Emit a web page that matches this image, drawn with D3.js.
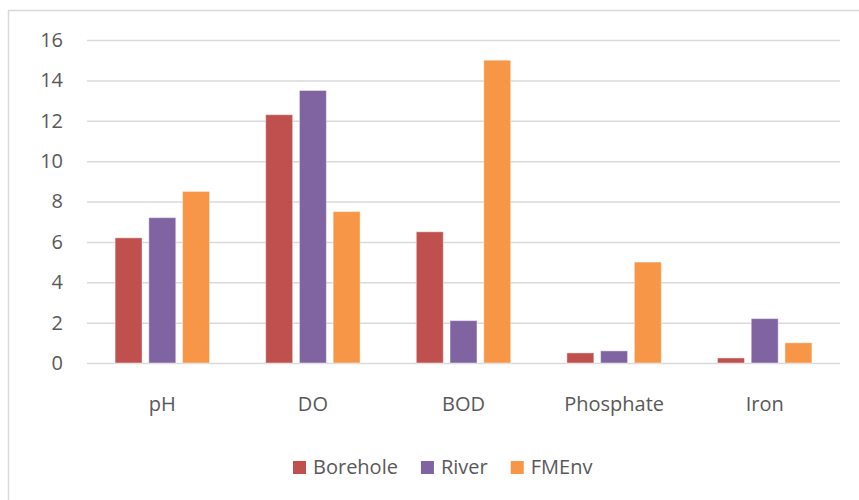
<!DOCTYPE html>
<html>
<head>
<meta charset="utf-8">
<script src="https://cdn.jsdelivr.net/npm/d3@7"></script>
<style>
  html, body { margin: 0; padding: 0; background: #fff; }
  svg { display: block; }
  text { font-family: "Open Sans", "Liberation Sans", sans-serif; fill: #595959; }
</style>
</head>
<body>
<svg id="chart" width="859" height="500"></svg>
<script>
// Water quality parameters by source
const categories = ["pH", "DO", "BOD", "Phosphate", "Iron"];
const seriesNames = ["Borehole", "River", "FMEnv"];
const borehole = [6.2, 12.3, 6.5, 0.5, 0.25];
const river = [7.2, 13.5, 2.1, 0.6, 2.2];
const fmenv = [8.5, 7.5, 15, 5, 1];
const yTicks = [0, 2, 4, 6, 8, 10, 12, 14, 16];
const colors = ["#C0504D", "#8064A2", "#F79646"];

const seriesValues = [borehole, river, fmenv];
const rows = categories.map((c, i) => ({
  category: c,
  values: seriesNames.map((s, j) => ({ series: s, value: seriesValues[j][i], color: colors[j] }))
}));

const svg = d3.select("#chart");
const fontSize = 20;

// Chart frame
svg.append("rect")
  .attr("x", 8.5).attr("y", 10.5)
  .attr("width", 870).attr("height", 500)
  .attr("fill", "none")
  .attr("stroke", "#d9d9d9")
  .attr("stroke-width", 1.5);

const plot = { left: 87, right: 840, top: 40, bottom: 363 };

const x0 = d3.scaleBand().domain(categories).range([plot.left, plot.right]).padding(0);
const groupWidth = x0.bandwidth() * 0.627;
const x1 = d3.scaleBand().domain(seriesNames).range([0, groupWidth]).paddingInner(0.2).paddingOuter(0);
const y = d3.scaleLinear().domain([0, 16]).range([plot.bottom, plot.top]);

// Horizontal gridlines and value labels
const yAxis = d3.axisLeft(y)
  .tickValues(yTicks)
  .tickSize(-(plot.right - plot.left))
  .tickPadding(24)
  .tickFormat(d3.format("d"));

const gy = svg.append("g")
  .attr("transform", `translate(${plot.left},0)`)
  .call(yAxis);
gy.select(".domain").remove();
gy.selectAll(".tick line").attr("stroke", "#d9d9d9").attr("stroke-width", 1.5);
gy.selectAll(".tick text")
  .attr("font-size", fontSize)
  .attr("fill", "#595959")
  .style("font-family", "'Open Sans', sans-serif");

// Bars
const groups = svg.append("g").selectAll("g")
  .data(rows)
  .join("g")
  .attr("transform", d => `translate(${x0(d.category) + (x0.bandwidth() - groupWidth) / 2},0)`);

groups.selectAll("rect")
  .data(d => d.values)
  .join("rect")
  .attr("x", d => x1(d.series))
  .attr("y", d => y(d.value))
  .attr("width", x1.bandwidth())
  .attr("height", d => y(0) - y(d.value))
  .attr("fill", d => d.color)
  .attr("stroke", "rgba(255,255,255,0.45)")
  .attr("stroke-width", 1);

// Category labels
const gx = svg.append("g")
  .attr("transform", `translate(0,${plot.bottom})`)
  .call(d3.axisBottom(x0).tickSize(0).tickPadding(34));
gx.select(".domain").remove();
gx.selectAll(".tick text")
  .attr("font-size", fontSize)
  .attr("fill", "#595959")
  .style("font-family", "'Open Sans', sans-serif");

// Legend
const legend = svg.append("g").attr("transform", "translate(293,0)");
let lx = 0;
seriesNames.forEach((s, i) => {
  const item = legend.append("g").attr("transform", `translate(${lx},0)`);
  item.append("rect")
    .attr("x", 0).attr("y", 461)
    .attr("width", 13).attr("height", 13)
    .attr("fill", colors[i]);
  const t = item.append("text")
    .attr("x", 20).attr("y", 474)
    .attr("font-size", fontSize)
    .text(s);
  lx += 20 + t.node().getComputedTextLength() + 23;
});
</script>
</body>
</html>
